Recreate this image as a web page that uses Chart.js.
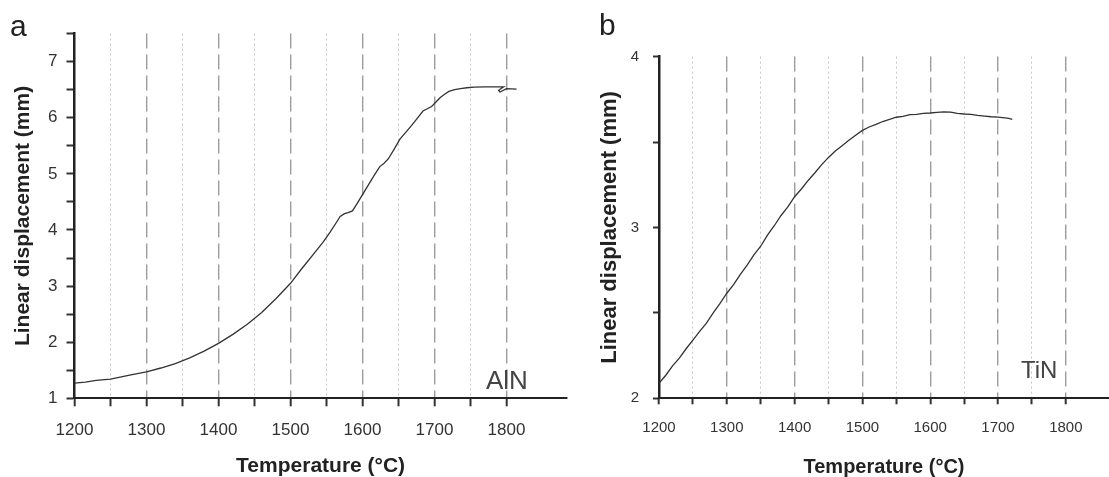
<!DOCTYPE html>
<html>
<head>
<meta charset="utf-8">
<script src="https://cdn.jsdelivr.net/npm/chart.js@4.4.1/dist/chart.umd.min.js"></script>
<style>
  body { margin: 0; background: #fff; width: 1109px; height: 477px; position: relative; overflow: hidden;
         font-family: "Liberation Sans", Arial, sans-serif; }
  canvas { position: absolute; top: 0; }
  #chartA { left: 0; }
  #chartB { left: 580px; }
  .lbl { position: absolute; line-height: 1; white-space: nowrap; }
</style>
</head>
<body>
<canvas id="chartA" width="580" height="477"></canvas>
<canvas id="chartB" width="529" height="477"></canvas>
<div class="lbl" style="left:10px;top:11px;font-size:30px;color:#222">a</div>
<div class="lbl" style="left:599px;top:10px;font-size:30px;color:#222">b</div>
<div class="lbl" style="left:486px;top:367px;font-size:26px;color:#444">AlN</div>
<div class="lbl" style="left:1021px;top:358px;font-size:24px;color:#444">TiN</div>
<script>
// (a) AlN
const alnTemp = [1200, 1215, 1230, 1250, 1265, 1280, 1300, 1320, 1340, 1360, 1380, 1400, 1420, 1440,
  1460, 1480, 1500, 1515, 1530, 1545, 1555, 1563, 1569, 1575, 1580, 1586, 1592, 1600, 1608, 1616,
  1624, 1630, 1636, 1644, 1652, 1660, 1668, 1676, 1684, 1690, 1696, 1702, 1708, 1714, 1720, 1728,
  1736, 1745, 1755, 1770, 1785, 1796, 1789, 1791, 1800, 1814];
const alnDisp = [1.27, 1.29, 1.32, 1.34, 1.38, 1.42, 1.47, 1.54, 1.62, 1.72, 1.84, 1.98, 2.14, 2.32,
  2.53, 2.78, 3.05, 3.30, 3.54, 3.78, 3.96, 4.12, 4.24, 4.29, 4.31, 4.34, 4.46, 4.63, 4.80, 4.97,
  5.13, 5.19, 5.27, 5.44, 5.62, 5.74, 5.86, 5.99, 6.12, 6.16, 6.20, 6.28, 6.36, 6.42, 6.47, 6.50,
  6.52, 6.535, 6.545, 6.55, 6.55, 6.55, 6.49, 6.46, 6.52, 6.51];

// (b) TiN
const tinTemp = [1200, 1210, 1220, 1230, 1240, 1250, 1260, 1270, 1280, 1290, 1300, 1310, 1320, 1330,
  1340, 1350, 1360, 1370, 1380, 1390, 1400, 1410, 1420, 1430, 1440, 1450, 1460, 1470, 1480, 1490,
  1500, 1510, 1520, 1530, 1540, 1550, 1560, 1570, 1580, 1590, 1600, 1610, 1620, 1630, 1640, 1650,
  1660, 1670, 1680, 1690, 1700, 1710, 1716, 1721];
const tinDisp = [2.088, 2.135, 2.19, 2.235, 2.29, 2.34, 2.392, 2.44, 2.50, 2.555, 2.615, 2.665, 2.725,
  2.78, 2.84, 2.89, 2.955, 3.01, 3.07, 3.12, 3.18, 3.225, 3.275, 3.32, 3.368, 3.41, 3.447, 3.478,
  3.51, 3.54, 3.568, 3.588, 3.603, 3.62, 3.632, 3.645, 3.65, 3.66, 3.662, 3.668, 3.67, 3.674, 3.677,
  3.675, 3.668, 3.664, 3.662, 3.656, 3.652, 3.648, 3.646, 3.641, 3.638, 3.632];

// tick labels
const xTickLabels = [1200, 1300, 1400, 1500, 1600, 1700, 1800];
const aYTickLabels = [1, 2, 3, 4, 5, 6, 7];
const bYTickLabels = [2, 3, 4];

const FONT = '"Liberation Sans", Arial, sans-serif';

function makeChart(id, temps, disp, o) {
  const points = temps.map((t, i) => ({ x: t, y: disp[i] }));
  return new Chart(document.getElementById(id), {
    type: 'scatter',
    data: {
      datasets: [{
        data: points,
        showLine: true,
        borderColor: '#333',
        borderWidth: 1.3,
        pointRadius: 0,
        tension: 0
      }]
    },
    options: {
      responsive: false,
      animation: false,
      events: [],
      layout: { padding: { top: o.padTop, right: o.padRight, bottom: 0, left: 0 } },
      plugins: { legend: { display: false }, tooltip: { enabled: false } },
      scales: {
        x: {
          type: 'linear',
          min: 1200,
          max: o.xMax,
          afterBuildTicks: s => { s.ticks = s.ticks.filter(t => t.value % 50 === 0); },
          afterFit: s => { s.height = 477 - 398.3; },
          ticks: {
            stepSize: 50,
            autoSkip: false,
            maxRotation: 0,
            padding: o.xTickPad,
            color: '#333',
            font: { family: FONT, size: o.tickSize },
            callback: v => xTickLabels.includes(v) ? String(v) : ''
          },
          grid: {
            drawOnChartArea: true,
            color: c => {
              const v = c.tick ? c.tick.value : 0;
              if (v === 1200) return 'rgba(0,0,0,0)';
              return v % 100 === 0 ? '#9c9c9c' : '#c6c6c6';
            },
            lineWidth: c => (c.tick && c.tick.value % 100 === 0) ? 1.4 : 1,
            tickColor: '#333',
            tickWidth: 2,
            tickLength: o.tickLen
          },
          border: {
            display: true,
            color: '#222',
            width: 2,
            dash: c => {
              if (!c.tick) return [];
              return c.tick.value % 100 === 0 ? [15, 6] : [2, 3];
            }
          },
          title: {
            display: true,
            text: 'Temperature (°C)',
            color: '#222',
            font: { family: FONT, size: o.xTitleSize, weight: 'bold' },
            padding: { top: 0, bottom: -2 }
          }
        },
        y: {
          type: 'linear',
          min: o.yMin,
          max: o.yMax,
          afterFit: s => { s.width = o.yWidth; },
          ticks: {
            stepSize: 0.5,
            autoSkip: false,
            padding: o.yTickPad,
            color: '#333',
            font: { family: FONT, size: o.tickSize },
            callback: v => o.yLabels.includes(v) ? String(v) : ''
          },
          grid: {
            drawOnChartArea: false,
            tickColor: '#333',
            tickWidth: 2,
            tickLength: o.tickLen
          },
          border: { display: true, color: '#222', width: 2.5 },
          title: {
            display: true,
            text: 'Linear displacement (mm)',
            color: '#222',
            font: { family: FONT, size: o.yTitleSize, weight: 'bold' },
            padding: { top: o.yTitlePad, bottom: 0 }
          }
        }
      }
    }
  });
}

makeChart('chartA', alnTemp, alnDisp, {
  xMax: 1883.6, yMin: 1, yMax: 7.5, yLabels: aYTickLabels,
  padTop: 33.6, padRight: 13.3, yWidth: 74.5,
  tickSize: 17, tickLen: 8, xTickPad: 14, yTickPad: 9,
  xTitleSize: 21, yTitleSize: 21, yTitlePad: 11
});

makeChart('chartB', tinTemp, tinDisp, {
  xMax: 1863.7, yMin: 2, yMax: 4, yLabels: bYTickLabels,
  padTop: 56.6, padRight: 0, yWidth: 79,
  tickSize: 15, tickLen: 6, xTickPad: 15, yTickPad: 14,
  xTitleSize: 20, yTitleSize: 22, yTitlePad: 17
});
</script>
</body>
</html>
